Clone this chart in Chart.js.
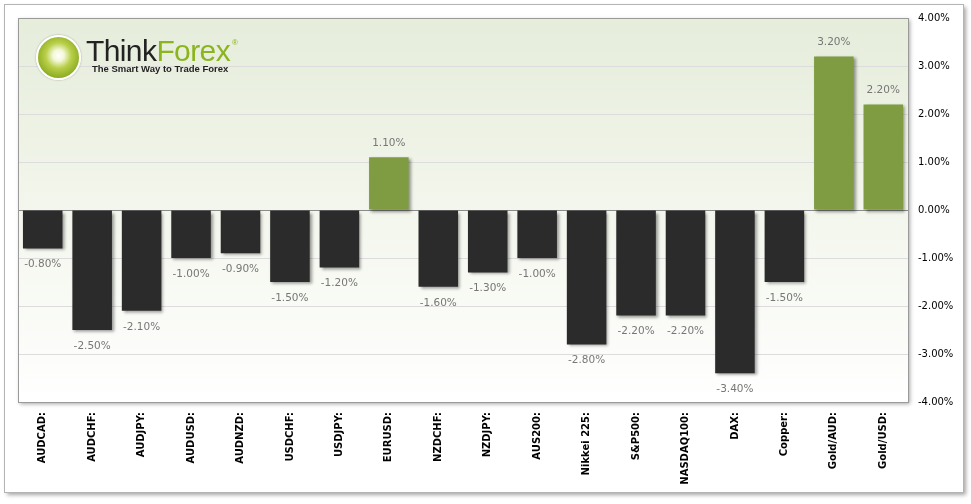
<!DOCTYPE html>
<html>
<head>
<meta charset="utf-8">
<script src="https://cdn.jsdelivr.net/npm/chart.js@4"></script>
<style>
  html, body { margin: 0; padding: 0; background: #fff; }
  #wrap { position: relative; width: 971px; height: 504px; }
  #logo { position: absolute; left: 0; top: 0; pointer-events: none; }
  .bulb { position: absolute; left: 36px; top: 35px; width: 41px; height: 41px; border-radius: 50%;
          border: 2px solid #fff; box-shadow: 0 0 2px rgba(0,0,0,0.35);
          background: radial-gradient(circle at 50% 45%, #ffffff 0, #f4f8d8 18%, #b9cf4a 42%, #8aaa1e 75%, #7a9a14 100%); }
  .brand { position: absolute; left: 86px; top: 25px; font-family: "Liberation Sans", Arial, sans-serif;
           font-size: 30px; letter-spacing: -0.6px; line-height: 36px; white-space: nowrap; }
  .brand .t { color: #222; }
  .brand .f { color: #8ab51e; }
  .brand sup { font-size: 8px; color: #8ab51e; vertical-align: 16px; margin-left: 2px; }
  .tag { position: absolute; left: 92px; top: 63px; font-family: "Liberation Sans", Arial, sans-serif;
         font-size: 9.5px; font-weight: bold; color: #222; white-space: nowrap; }
</style>
</head>
<body>
<div id="wrap">
  <canvas id="chart" width="971" height="504"></canvas>
  <div id="logo">
    <div class="bulb"></div>
    <div class="brand"><span class="t">Think</span><span class="f">Forex</span><sup>®</sup></div>
    <div class="tag">The Smart Way to Trade Forex</div>
  </div>
</div>
<script>
const categories = ['AUDCAD:', 'AUDCHF:', 'AUDJPY:', 'AUDUSD:', 'AUDNZD:', 'USDCHF:', 'USDJPY:', 'EURUSD:',
    'NZDCHF:', 'NZDJPY:', 'AUS200:', 'Nikkei 225:', 'S&P500:', 'NASDAQ100:', 'DAX:', 'Copper:', 'Gold/AUD:', 'Gold/USD:'];
const changes = [-0.8, -2.5, -2.1, -1.0, -0.9, -1.5, -1.2, 1.1, -1.6, -1.3, -1.0, -2.8, -2.2, -2.2, -3.4, -1.5, 3.2, 2.2];
const yMin = -4;
const yMax = 4;
const yStep = 1;

const upColor = '#7f9c42';
const downColor = '#2b2b2b';

// frame, plot background and border
const framePlugin = {
    id: 'frame',
    beforeDraw(chart) {
        const ctx = chart.ctx;
        const a = chart.chartArea;
        ctx.save();
        ctx.fillStyle = '#fff';
        ctx.fillRect(0, 0, chart.width, chart.height);
        // outer frame
        ctx.shadowColor = 'rgba(0,0,0,0.35)';
        ctx.shadowBlur = 4;
        ctx.shadowOffsetX = 2;
        ctx.shadowOffsetY = 2;
        ctx.fillStyle = '#fff';
        ctx.fillRect(4.5, 4.5, 959, 488);
        ctx.shadowColor = 'transparent';
        ctx.strokeStyle = '#b4b4b4';
        ctx.lineWidth = 1;
        ctx.strokeRect(4.5, 4.5, 959, 488);
        // plot area
        ctx.shadowColor = 'rgba(0,0,0,0.35)';
        ctx.shadowBlur = 4;
        ctx.shadowOffsetX = 2;
        ctx.shadowOffsetY = 2;
        const g = ctx.createLinearGradient(0, a.top, 0, a.bottom);
        g.addColorStop(0, '#e6eddb');
        g.addColorStop(0.55, '#f4f7ee');
        g.addColorStop(1, '#ffffff');
        ctx.fillStyle = g;
        ctx.fillRect(a.left, a.top, a.right - a.left, a.bottom - a.top);
        ctx.restore();
    },
    afterDraw(chart) {
        const ctx = chart.ctx;
        const a = chart.chartArea;
        ctx.save();
        ctx.strokeStyle = '#9a9a9a';
        ctx.lineWidth = 1;
        ctx.strokeRect(Math.round(a.left) + 0.5, Math.round(a.top) + 0.5, Math.round(a.right - a.left), Math.round(a.bottom - a.top));
        ctx.restore();
    }
};

// drop shadow on the bars
const shadowPlugin = {
    id: 'barShadow',
    beforeDatasetsDraw(chart) {
        const ctx = chart.ctx;
        ctx.save();
        ctx.shadowColor = 'rgba(0,0,0,0.4)';
        ctx.shadowBlur = 3;
        ctx.shadowOffsetX = 2;
        ctx.shadowOffsetY = 2;
    },
    afterDatasetsDraw(chart) {
        chart.ctx.restore();
    }
};

// value labels
const valuePlugin = {
    id: 'values',
    afterDatasetsDraw(chart) {
        const ctx = chart.ctx;
        const meta = chart.getDatasetMeta(0);
        ctx.save();
        ctx.font = '10.5px "DejaVu Sans", Verdana, sans-serif';
        ctx.fillStyle = '#777';
        ctx.textAlign = 'center';
        ctx.textBaseline = 'middle';
        meta.data.forEach((bar, i) => {
            const v = changes[i];
            const y = v >= 0 ? bar.y - 14 : bar.y + 16;
            ctx.fillText(v.toFixed(2) + '%', bar.x, y);
        });
        ctx.restore();
    }
};

new Chart(document.getElementById('chart').getContext('2d'), {
    type: 'bar',
    data: {
        labels: categories,
        datasets: [{
            data: changes,
            backgroundColor: changes.map(v => v >= 0 ? upColor : downColor),
            barPercentage: 0.8,
            categoryPercentage: 1.0,
            borderWidth: 0
        }]
    },
    options: {
        responsive: false,
        animation: false,
        layout: { padding: { left: 18, top: 18, right: 0, bottom: 0 } },
        plugins: {
            legend: { display: false },
            tooltip: { enabled: false }
        },
        scales: {
            x: {
                grid: { display: false, drawTicks: false },
                border: { display: false },
                afterFit(scale) { scale.height = 102; },
                ticks: {
                    autoSkip: false,
                    minRotation: 90,
                    maxRotation: 90,
                    padding: 10,
                    color: '#000',
                    font: { family: '"DejaVu Sans", Tahoma, sans-serif', size: 10, weight: 'bold' }
                }
            },
            y: {
                position: 'right',
                min: yMin,
                max: yMax,
                afterFit(scale) { scale.width = 63; },
                grid: {
                    drawTicks: false,
                    color: ctx => ctx.tick && ctx.tick.value === 0 ? '#8a8a8a' : '#dcdcdc'
                },
                border: { display: false },
                ticks: {
                    stepSize: yStep,
                    padding: 10,
                    color: '#000',
                    font: { family: '"DejaVu Sans", Verdana, sans-serif', size: 10 },
                    callback: v => v.toFixed(2) + '%'
                }
            }
        }
    },
    plugins: [framePlugin, shadowPlugin, valuePlugin]
});
</script>
</body>
</html>
